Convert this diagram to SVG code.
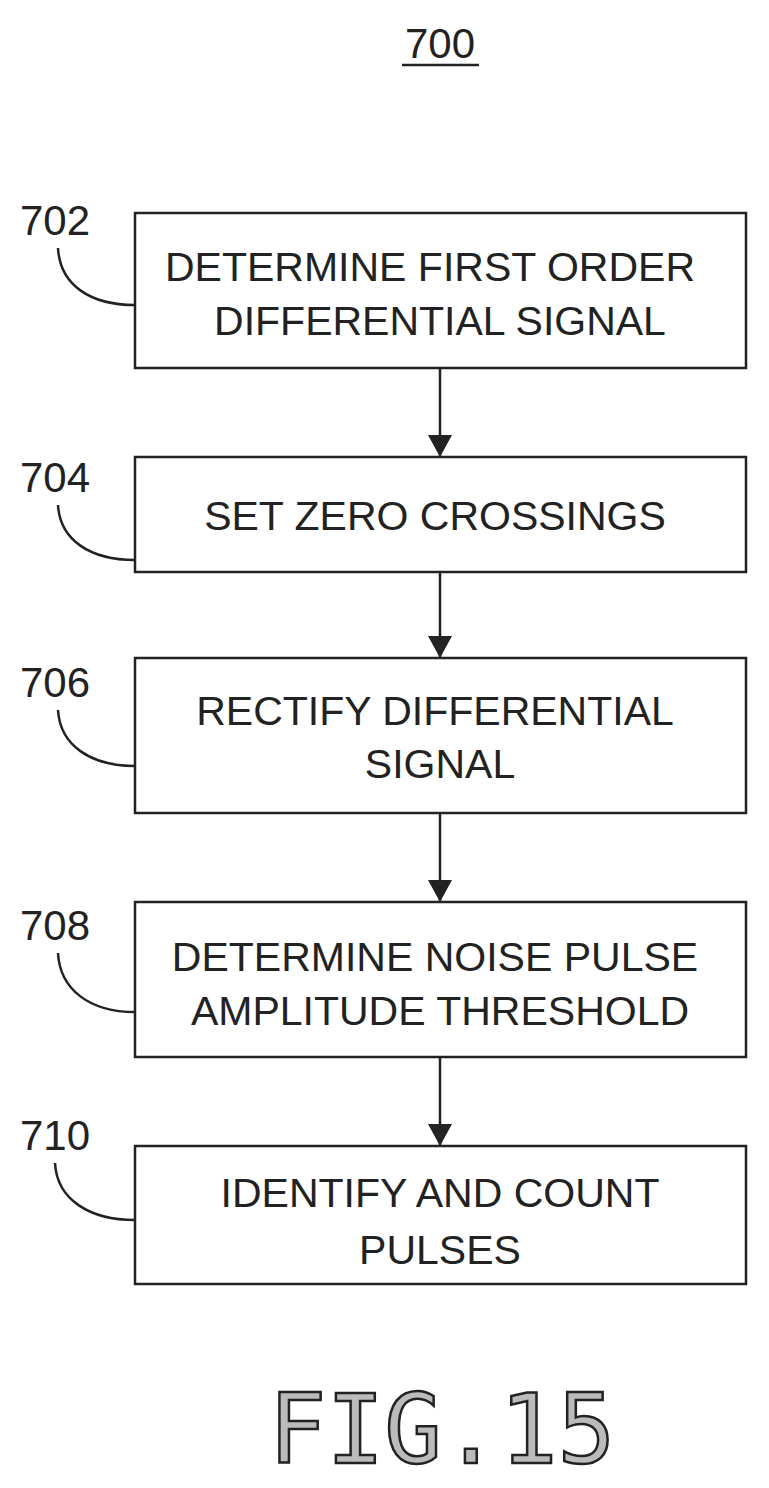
<svg xmlns="http://www.w3.org/2000/svg" width="769" height="1488" viewBox="0 0 769 1488">
<style>
.b{fill:#fff;stroke:#222;stroke-width:2.5}
.t{font-family:"Liberation Sans",Arial,sans-serif;font-size:41px;text-anchor:middle;fill:#222}
.l{font-family:"Liberation Sans",Arial,sans-serif;font-size:42px;fill:#222}
.c{fill:none;stroke:#222;stroke-width:2.5}
</style>
<defs><marker id="ah" markerWidth="22" markerHeight="24" refX="22" refY="12" orient="auto" markerUnits="userSpaceOnUse"><path d="M0,0 L22,12 L0,24 Z" fill="#222"/></marker></defs>
<text x="440" y="58" class="t" style="font-size:42px">700</text>
<line x1="402" y1="65" x2="479" y2="65" stroke="#222" stroke-width="2.5"/>
<g id="n702"><rect x="135" y="213" width="611" height="155" class="b"/><text x="430" y="281" class="t">DETERMINE FIRST ORDER</text><text x="440" y="335" class="t">DIFFERENTIAL SIGNAL</text><text x="20" y="235" class="l">702</text><path d="M58,248 C60,285 90,305 135,305" class="c"/></g>
<g id="n704"><rect x="135" y="457" width="611" height="115" class="b"/><text x="435" y="530" class="t">SET ZERO CROSSINGS</text><text x="20" y="492" class="l">704</text><path d="M58,505 C60,540 90,560 135,560" class="c"/></g>
<g id="n706"><rect x="135" y="658" width="611" height="155" class="b"/><text x="435" y="725" class="t">RECTIFY DIFFERENTIAL</text><text x="440" y="778" class="t">SIGNAL</text><text x="20" y="697" class="l">706</text><path d="M58,710 C60,745 90,766 135,766" class="c"/></g>
<g id="n708"><rect x="135" y="902" width="611" height="155" class="b"/><text x="435" y="971" class="t">DETERMINE NOISE PULSE</text><text x="440" y="1025" class="t">AMPLITUDE THRESHOLD</text><text x="20" y="940" class="l">708</text><path d="M58,953 C60,990 90,1012 135,1012" class="c"/></g>
<g id="n710"><rect x="135" y="1146" width="611" height="138" class="b"/><text x="440" y="1207" class="t">IDENTIFY AND COUNT</text><text x="440" y="1264" class="t">PULSES</text><text x="20" y="1150" class="l">710</text><path d="M55,1163 C57,1200 90,1220 135,1220" class="c"/></g>
<g id="connectors" stroke="#222" stroke-width="2.5">
<line x1="440" y1="368" x2="440" y2="457" marker-end="url(#ah)"/>
<line x1="440" y1="572" x2="440" y2="658" marker-end="url(#ah)"/>
<line x1="440" y1="813" x2="440" y2="902" marker-end="url(#ah)"/>
<line x1="440" y1="1057" x2="440" y2="1146" marker-end="url(#ah)"/>
</g>
<text x="442" y="1463" style="font-family:'DejaVu Sans Mono',monospace;font-size:96px;text-anchor:middle;fill:#bbb;stroke:#222;stroke-width:2.5">FIG.15</text>
</svg>
